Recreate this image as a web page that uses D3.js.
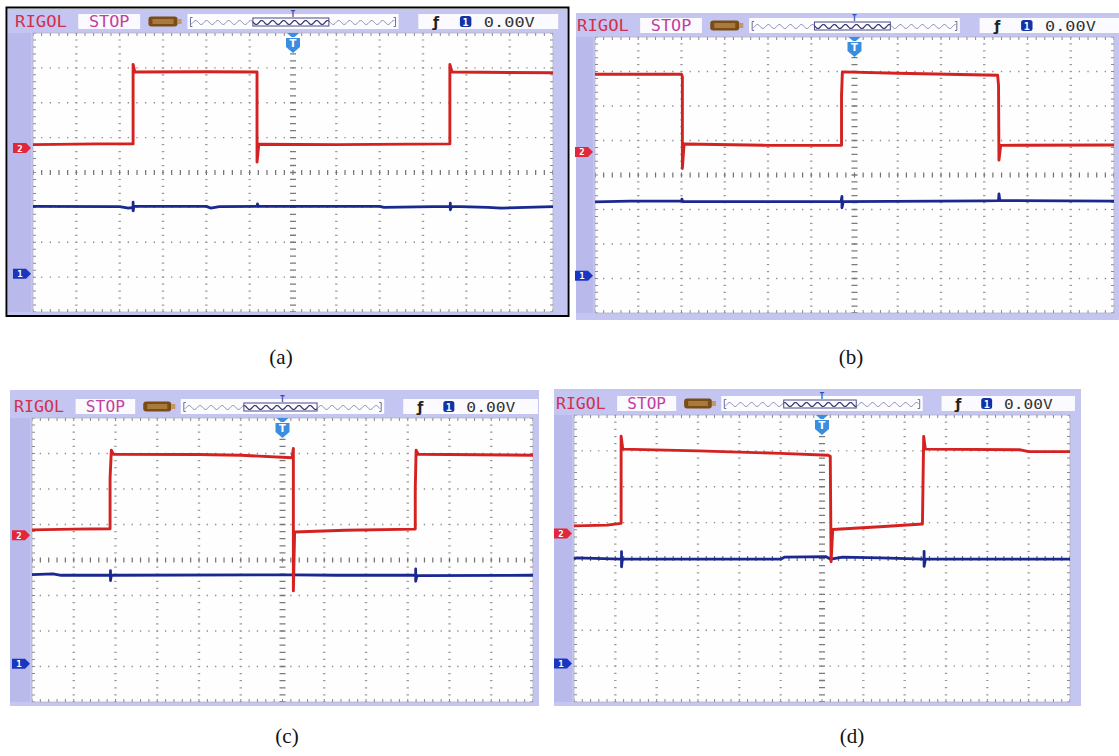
<!DOCTYPE html>
<html>
<head>
<meta charset="utf-8">
<script src="https://cdn.jsdelivr.net/npm/d3@7"></script>
<style>
  body { margin: 0; background: #fff; }
</style>
</head>
<body>
<div id="chart-area"></div>
<script>

// captions under each scope capture
var captions = ["(a)", "(b)", "(c)", "(d)"];

// channel 2 (red) traces, [time in div, level in div]
var ch2A = [[0, 0.80], [1.5, 0.82], [2.31, 0.82], [2.31, 3.10], [2.35, 2.88], [4.0, 2.89], [5.17, 2.88],
            [5.17, 0.30], [5.21, 0.81], [7.0, 0.80], [9.62, 0.82], [9.62, 3.10], [9.67, 2.88], [12, 2.86]];
var ch2B = [[0, 2.92], [2.0, 2.92], [2.02, 2.85], [2.02, 0.19], [2.06, 0.90], [4.0, 0.86], [5.70, 0.86],
            [5.70, 2.30], [5.72, 2.99], [7.0, 2.95], [9.31, 2.89], [9.33, 2.60], [9.34, 0.43], [9.38, 0.86], [12, 0.87]];
var ch2C = [[0, 0.85], [1.0, 0.87], [1.87, 0.88], [1.87, 2.30], [1.90, 3.09], [1.95, 2.98], [4.0, 2.97], [5.0, 2.95],
            [6.23, 2.88], [6.26, 3.14], [6.26, -0.87], [6.29, 0.79], [7.5, 0.84], [9.18, 0.87], [9.18, 2.0], [9.20, 3.09],
            [9.25, 2.98], [12, 2.95]];
var ch2D = [[0, 0.91], [0.8, 0.93], [1.14, 0.98], [1.14, 3.41], [1.18, 3.05], [3.0, 3.00], [5.0, 2.93], [6.15, 2.88],
            [6.20, 2.85], [6.22, -0.09], [6.26, 0.81], [7.5, 0.89], [8.43, 0.96], [8.46, 3.40], [8.50, 3.05], [10.8, 3.03],
            [11.0, 2.98], [12, 2.98]];

// channel 1 (blue) traces
var ch1A = [[0, -0.97], [2.0, -0.98], [2.2, -1.02], [2.31, -1.00], [2.31, -0.85], [2.31, -1.10], [2.33, -0.97], [4.0, -0.97],
            [4.1, -1.02], [4.3, -0.98], [5.18, -0.97], [5.18, -0.90], [5.20, -0.97], [8.0, -0.97], [8.1, -1.00], [9.63, -0.97],
            [9.63, -0.88], [9.63, -1.07], [9.66, -0.97], [10.5, -1.00], [10.8, -1.02], [12, -0.98]];
var ch1B = [[0, -0.78], [0.8, -0.76], [2.0, -0.76], [2.01, -0.70], [2.03, -0.77], [5.69, -0.77], [5.71, -0.62], [5.71, -0.95],
            [5.74, -0.77], [9.0, -0.75], [9.33, -0.74], [9.34, -0.55], [9.36, -0.74], [12, -0.76]];
var ch1C = [[0, -0.41], [0.5, -0.39], [0.7, -0.43], [1.88, -0.43], [1.88, -0.30], [1.88, -0.58], [1.90, -0.43], [5.5, -0.42],
            [6.26, -0.42], [7.3, -0.43], [9.19, -0.43], [9.19, -0.25], [9.19, -0.60], [9.22, -0.44], [12, -0.43]];
var ch1D = [[0, -0.02], [0.05, 0.02], [1.15, -0.02], [1.15, 0.19], [1.15, -0.23], [1.17, -0.02], [5.0, -0.02], [5.1, 0.04],
            [6.1, 0.05], [6.21, -0.02], [6.5, 0.04], [7.4, 0.02], [8.47, -0.02], [8.47, 0.20], [8.47, -0.22], [8.50, -0.02], [12, -0.02]];

// ground markers on the left edge (div)
var ch2Markers = [0.70, 0.67, 0.70, 0.70];
var ch1Markers = [-2.90, -2.92, -2.92, -2.93];

// header texts
var brandText = "RIGOL";
var stateText = "STOP";
var trigLevelText = "0.00V";

var ch2Traces = [ch2A, ch2B, ch2C, ch2D];
var ch1Traces = [ch1A, ch1B, ch1C, ch1D];

var width = 1119, height = 756;

var svg = d3.select("#chart-area").append("svg")
    .attr("width", width)
    .attr("height", height);

// screen boxes: grid area (g*) and lavender frame (f*)
var screens = [
    {gx0: 33, gx1: 553, gy0: 33, gy1: 312, fx0: 8, fx1: 567, fy0: 9, fy1: 315, capX: 281, capY: 364, border: true},
    {gx0: 595, gx1: 1114, gy0: 37, gy1: 313, fx0: 576, fx1: 1119, fy0: 13, fy1: 320, capX: 851, capY: 364},
    {gx0: 32, gx1: 533, gy0: 418, gy1: 702, fx0: 10, fx1: 539, fy0: 390, fy1: 706, capX: 287, capY: 743},
    {gx0: 574, gx1: 1070, gy0: 415, gy1: 702, fx0: 554, fx1: 1081, fy0: 389, fy1: 706, capX: 852, capY: 743}
];

var lavender = "#c5c5f1";
var mono = "'DejaVu Sans Mono', monospace";

screens.forEach(function(s, i) {
    drawScreen(s, i);
});

function drawScreen(s, i) {
    var g = svg.append("g").attr("class", "screen-" + i);
    var W = s.gx1 - s.gx0;

    var x = d3.scaleLinear().domain([0, 12]).range([s.gx0, s.gx1]);
    var y = d3.scaleLinear().domain([-4, 4]).range([s.gy1, s.gy0]);
    var stepX = x(0.2) - x(0);
    var stepY = y(-4) - y(-3.8);

    // frame + white screen
    g.append("rect")
        .attr("x", s.fx0).attr("y", s.fy0)
        .attr("width", s.fx1 - s.fx0).attr("height", s.fy1 - s.fy0)
        .attr("fill", lavender);
    g.append("rect")
        .attr("x", s.fx0).attr("y", s.gy0)
        .attr("width", s.gx0 - s.fx0 - 2).attr("height", s.gy1 - s.gy0)
        .attr("fill", "#b9b9ec");
    g.append("rect")
        .attr("x", s.gx0).attr("y", s.gy0)
        .attr("width", W).attr("height", s.gy1 - s.gy0)
        .attr("fill", "#fefefe")
        .attr("stroke", "#b4b4c8")
        .attr("stroke-width", 0.8);

    // ---- graticule ----
    var grid = g.append("g");
    var hMajor = [-3, -2, -1, 1, 2, 3];
    var vMajor = [1, 2, 3, 4, 5, 7, 8, 9, 10, 11];

    grid.selectAll(".hmaj").data(hMajor).enter().append("line")
        .attr("x1", s.gx0).attr("x2", s.gx1)
        .attr("y1", function(d) { return y(d); })
        .attr("y2", function(d) { return y(d); })
        .attr("stroke", "#8a8a8a")
        .attr("stroke-width", 1.3)
        .attr("stroke-dasharray", "1.3 " + (stepX - 1.3))
        .attr("stroke-dashoffset", 0.65);

    grid.selectAll(".vmaj").data(vMajor).enter().append("line")
        .attr("x1", function(d) { return x(d); })
        .attr("x2", function(d) { return x(d); })
        .attr("y1", s.gy0).attr("y2", s.gy1)
        .attr("stroke", "#9a9a9a")
        .attr("stroke-width", 2.4)
        .attr("stroke-dasharray", "1.2 " + (stepY - 1.2))
        .attr("stroke-dashoffset", 0.6);

    // centre cross with sub-division ticks
    grid.append("line")
        .attr("x1", s.gx0).attr("x2", s.gx1)
        .attr("y1", y(0)).attr("y2", y(0))
        .attr("stroke", "#707070")
        .attr("stroke-width", 5)
        .attr("stroke-dasharray", "1.2 " + (stepX - 1.2))
        .attr("stroke-dashoffset", 0.6);
    grid.append("line")
        .attr("x1", x(6)).attr("x2", x(6))
        .attr("y1", s.gy0).attr("y2", s.gy1)
        .attr("stroke", "#7a7a7a")
        .attr("stroke-width", 6)
        .attr("stroke-dasharray", "1.3 " + (stepY - 1.3))
        .attr("stroke-dashoffset", 0.65);

    // edge ticks
    [s.gy0 + 1.5, s.gy1 - 1.5].forEach(function(yy) {
        grid.append("line")
            .attr("x1", s.gx0).attr("x2", s.gx1)
            .attr("y1", yy).attr("y2", yy)
            .attr("stroke", "#8a8a8a")
            .attr("stroke-width", 3)
            .attr("stroke-dasharray", "1 " + (stepX - 1))
            .attr("stroke-dashoffset", 0.5);
    });
    [s.gx0 + 1.5, s.gx1 - 1.5].forEach(function(xx) {
        grid.append("line")
            .attr("x1", xx).attr("x2", xx)
            .attr("y1", s.gy0).attr("y2", s.gy1)
            .attr("stroke", "#8a8a8a")
            .attr("stroke-width", 3)
            .attr("stroke-dasharray", "1 " + (stepY - 1))
            .attr("stroke-dashoffset", 0.5);
    });

    // ---- traces ----
    var line = d3.line()
        .x(function(d) { return x(d[0]); })
        .y(function(d) { return y(d[1]); });

    g.append("path")
        .datum(ch1Traces[i])
        .attr("d", line)
        .attr("fill", "none")
        .attr("stroke", "#1a2890")
        .attr("stroke-width", 2.8)
        .attr("stroke-linejoin", "round");

    g.append("path")
        .datum(ch2Traces[i])
        .attr("d", line)
        .attr("fill", "none")
        .attr("stroke", "#d42222")
        .attr("stroke-width", 2.9)
        .attr("stroke-linejoin", "round");

    // ---- channel ground markers ----
    var markers = [
        {level: ch2Markers[i], color: "#e0283a", label: "2"},
        {level: ch1Markers[i], color: "#1a36c0", label: "1"}
    ];
    var mk = g.selectAll(".marker").data(markers).enter().append("g")
        .attr("transform", function(d) { return "translate(" + (s.gx0 - 20) + "," + y(d.level) + ")"; });
    mk.append("path")
        .attr("d", "M0,-5 L13,-5 L18,0 L13,5 L0,5 Z")
        .attr("fill", function(d) { return d.color; });
    mk.append("text")
        .attr("x", 7).attr("y", 3.5)
        .attr("text-anchor", "middle")
        .attr("font-family", mono)
        .attr("font-size", 9)
        .attr("font-weight", "bold")
        .attr("fill", "#fff")
        .text(function(d) { return d.label; });

    // ---- trigger position marker ----
    var cx = x(6);
    var tg = g.append("g").attr("transform", "translate(" + cx + "," + s.gy0 + ")");
    tg.append("path")
        .attr("d", "M-6,0 L6,0 L1.5,4 L-1.5,4 Z")
        .attr("fill", "#3b8de0");
    tg.append("path")
        .attr("d", "M-7,5 L7,5 L7,14 L0,20 L-7,14 Z")
        .attr("fill", "#3b8de0");
    tg.append("text")
        .attr("x", 0).attr("y", 14)
        .attr("text-anchor", "middle")
        .attr("font-family", "'DejaVu Sans', sans-serif")
        .attr("font-size", 10)
        .attr("font-weight", "bold")
        .attr("fill", "#fff")
        .text("T");

    // ---- header ----
    var hy0 = s.gy0 - 19, hh = 15, hm = hy0 + hh / 2;
    var hx = function(f) { return s.gx0 + f * W; };

    g.append("text")
        .attr("x", s.gx0 - 18).attr("y", hm + 5)
        .attr("textLength", 0.1 * W)
        .attr("lengthAdjust", "spacingAndGlyphs")
        .attr("font-family", mono)
        .attr("font-size", 15)
        .attr("fill", "#d2304c")
        .text(brandText);

    g.append("rect")
        .attr("x", hx(0.087)).attr("y", hy0)
        .attr("width", (0.206 - 0.087) * W).attr("height", hh)
        .attr("fill", "#fbfbff");
    g.append("text")
        .attr("x", hx(0.1465)).attr("y", hm + 5)
        .attr("text-anchor", "middle")
        .attr("textLength", 0.078 * W)
        .attr("lengthAdjust", "spacingAndGlyphs")
        .attr("font-family", mono)
        .attr("font-size", 15)
        .attr("fill", "#c4409e")
        .text(stateText);

    // battery-like memory icon
    var bx0 = hx(0.222), bw = 0.056 * W;
    g.append("rect")
        .attr("x", bx0).attr("y", hm - 5)
        .attr("width", bw).attr("height", 10).attr("rx", 3)
        .attr("fill", "#7a4c16");
    g.append("rect")
        .attr("x", bx0 + 4).attr("y", hm - 2.5)
        .attr("width", bw - 8).attr("height", 5)
        .attr("fill", "#a87a3c");
    g.append("rect")
        .attr("x", bx0 + bw).attr("y", hm - 2.5)
        .attr("width", 4).attr("height", 5)
        .attr("fill", "#c09868");

    // memory depth strip with wavy line
    var wx0 = hx(0.297), wx1 = hx(0.703);
    g.append("rect")
        .attr("x", wx0).attr("y", hy0)
        .attr("width", wx1 - wx0).attr("height", hh)
        .attr("fill", "#fdfdff");
    var vx0 = wx0 + 0.31 * (wx1 - wx0), vx1 = wx0 + 0.67 * (wx1 - wx0);
    var wave = d3.line()
        .curve(d3.curveBasis)
        .x(function(d) { return d; })
        .y(function(d) { return hm + 1 + 2 * Math.sin((d - wx0) / 11 * 2 * Math.PI); });
    g.append("path")
        .attr("d", wave(d3.range(wx0 + 4, wx1 - 4, 0.25)))
        .attr("fill", "none")
        .attr("stroke", "#7070a0")
        .attr("stroke-width", 0.9);
    g.append("path")
        .attr("d", wave(d3.range(vx0, vx1, 0.25)))
        .attr("fill", "none")
        .attr("stroke", "#3c3c78")
        .attr("stroke-width", 1.2);
    // brackets at ends
    g.append("path")
        .attr("d", "M" + (wx0 + 5) + "," + (hm - 4) + " h-2 v9 h2 M" + (wx1 - 5) + "," + (hm - 4) + " h2 v9 h-2")
        .attr("fill", "none")
        .attr("stroke", "#6c6c9c")
        .attr("stroke-width", 1);
    // visible window box
    g.append("rect")
        .attr("x", vx0).attr("y", hm - 3.5)
        .attr("width", vx1 - vx0).attr("height", 8)
        .attr("fill", "none")
        .attr("stroke", "#4a4a82")
        .attr("stroke-width", 1);
    g.append("text")
        .attr("x", cx).attr("y", hy0 + 3)
        .attr("text-anchor", "middle")
        .attr("font-family", mono)
        .attr("font-size", 8)
        .attr("font-weight", "bold")
        .attr("fill", "#3050b0")
        .text("T");

    // trigger box
    var tx0 = hx(0.741), tx1 = hx(1.01);
    g.append("rect")
        .attr("x", tx0).attr("y", hy0)
        .attr("width", tx1 - tx0).attr("height", hh)
        .attr("fill", "#fbfbff");
    g.append("text")
        .attr("x", hx(0.775)).attr("y", hm + 5)
        .attr("text-anchor", "middle")
        .attr("font-family", "'DejaVu Sans', sans-serif")
        .attr("font-size", 14)
        .attr("font-weight", "bold")
        .attr("fill", "#222")
        .text("ƒ");
    g.append("rect")
        .attr("x", hx(0.821)).attr("y", hm - 5.5)
        .attr("width", 0.022 * W).attr("height", 11).attr("rx", 2.5)
        .attr("fill", "#1232a8");
    g.append("text")
        .attr("x", hx(0.832)).attr("y", hm + 4)
        .attr("text-anchor", "middle")
        .attr("font-family", mono)
        .attr("font-size", 10)
        .attr("font-weight", "bold")
        .attr("fill", "#fff")
        .text("1");
    g.append("text")
        .attr("x", hx(0.867)).attr("y", hm + 5)
        .attr("textLength", 0.098 * W)
        .attr("lengthAdjust", "spacingAndGlyphs")
        .attr("font-family", mono)
        .attr("font-size", 14)
        .attr("fill", "#333")
        .text(trigLevelText);

    // black outline only around the first capture
    if (s.border) {
        g.append("rect")
            .attr("x", s.fx0 - 1.5).attr("y", s.fy0 - 1.5)
            .attr("width", s.fx1 - s.fx0 + 3).attr("height", s.fy1 - s.fy0 + 2.5)
            .attr("fill", "none")
            .attr("stroke", "#000")
            .attr("stroke-width", 2);
    }

    // caption
    svg.append("text")
        .attr("x", s.capX).attr("y", s.capY)
        .attr("text-anchor", "middle")
        .attr("font-family", "'Liberation Serif', serif")
        .attr("font-size", 21)
        .attr("fill", "#111")
        .text(captions[i]);
}

</script>
</body>
</html>
